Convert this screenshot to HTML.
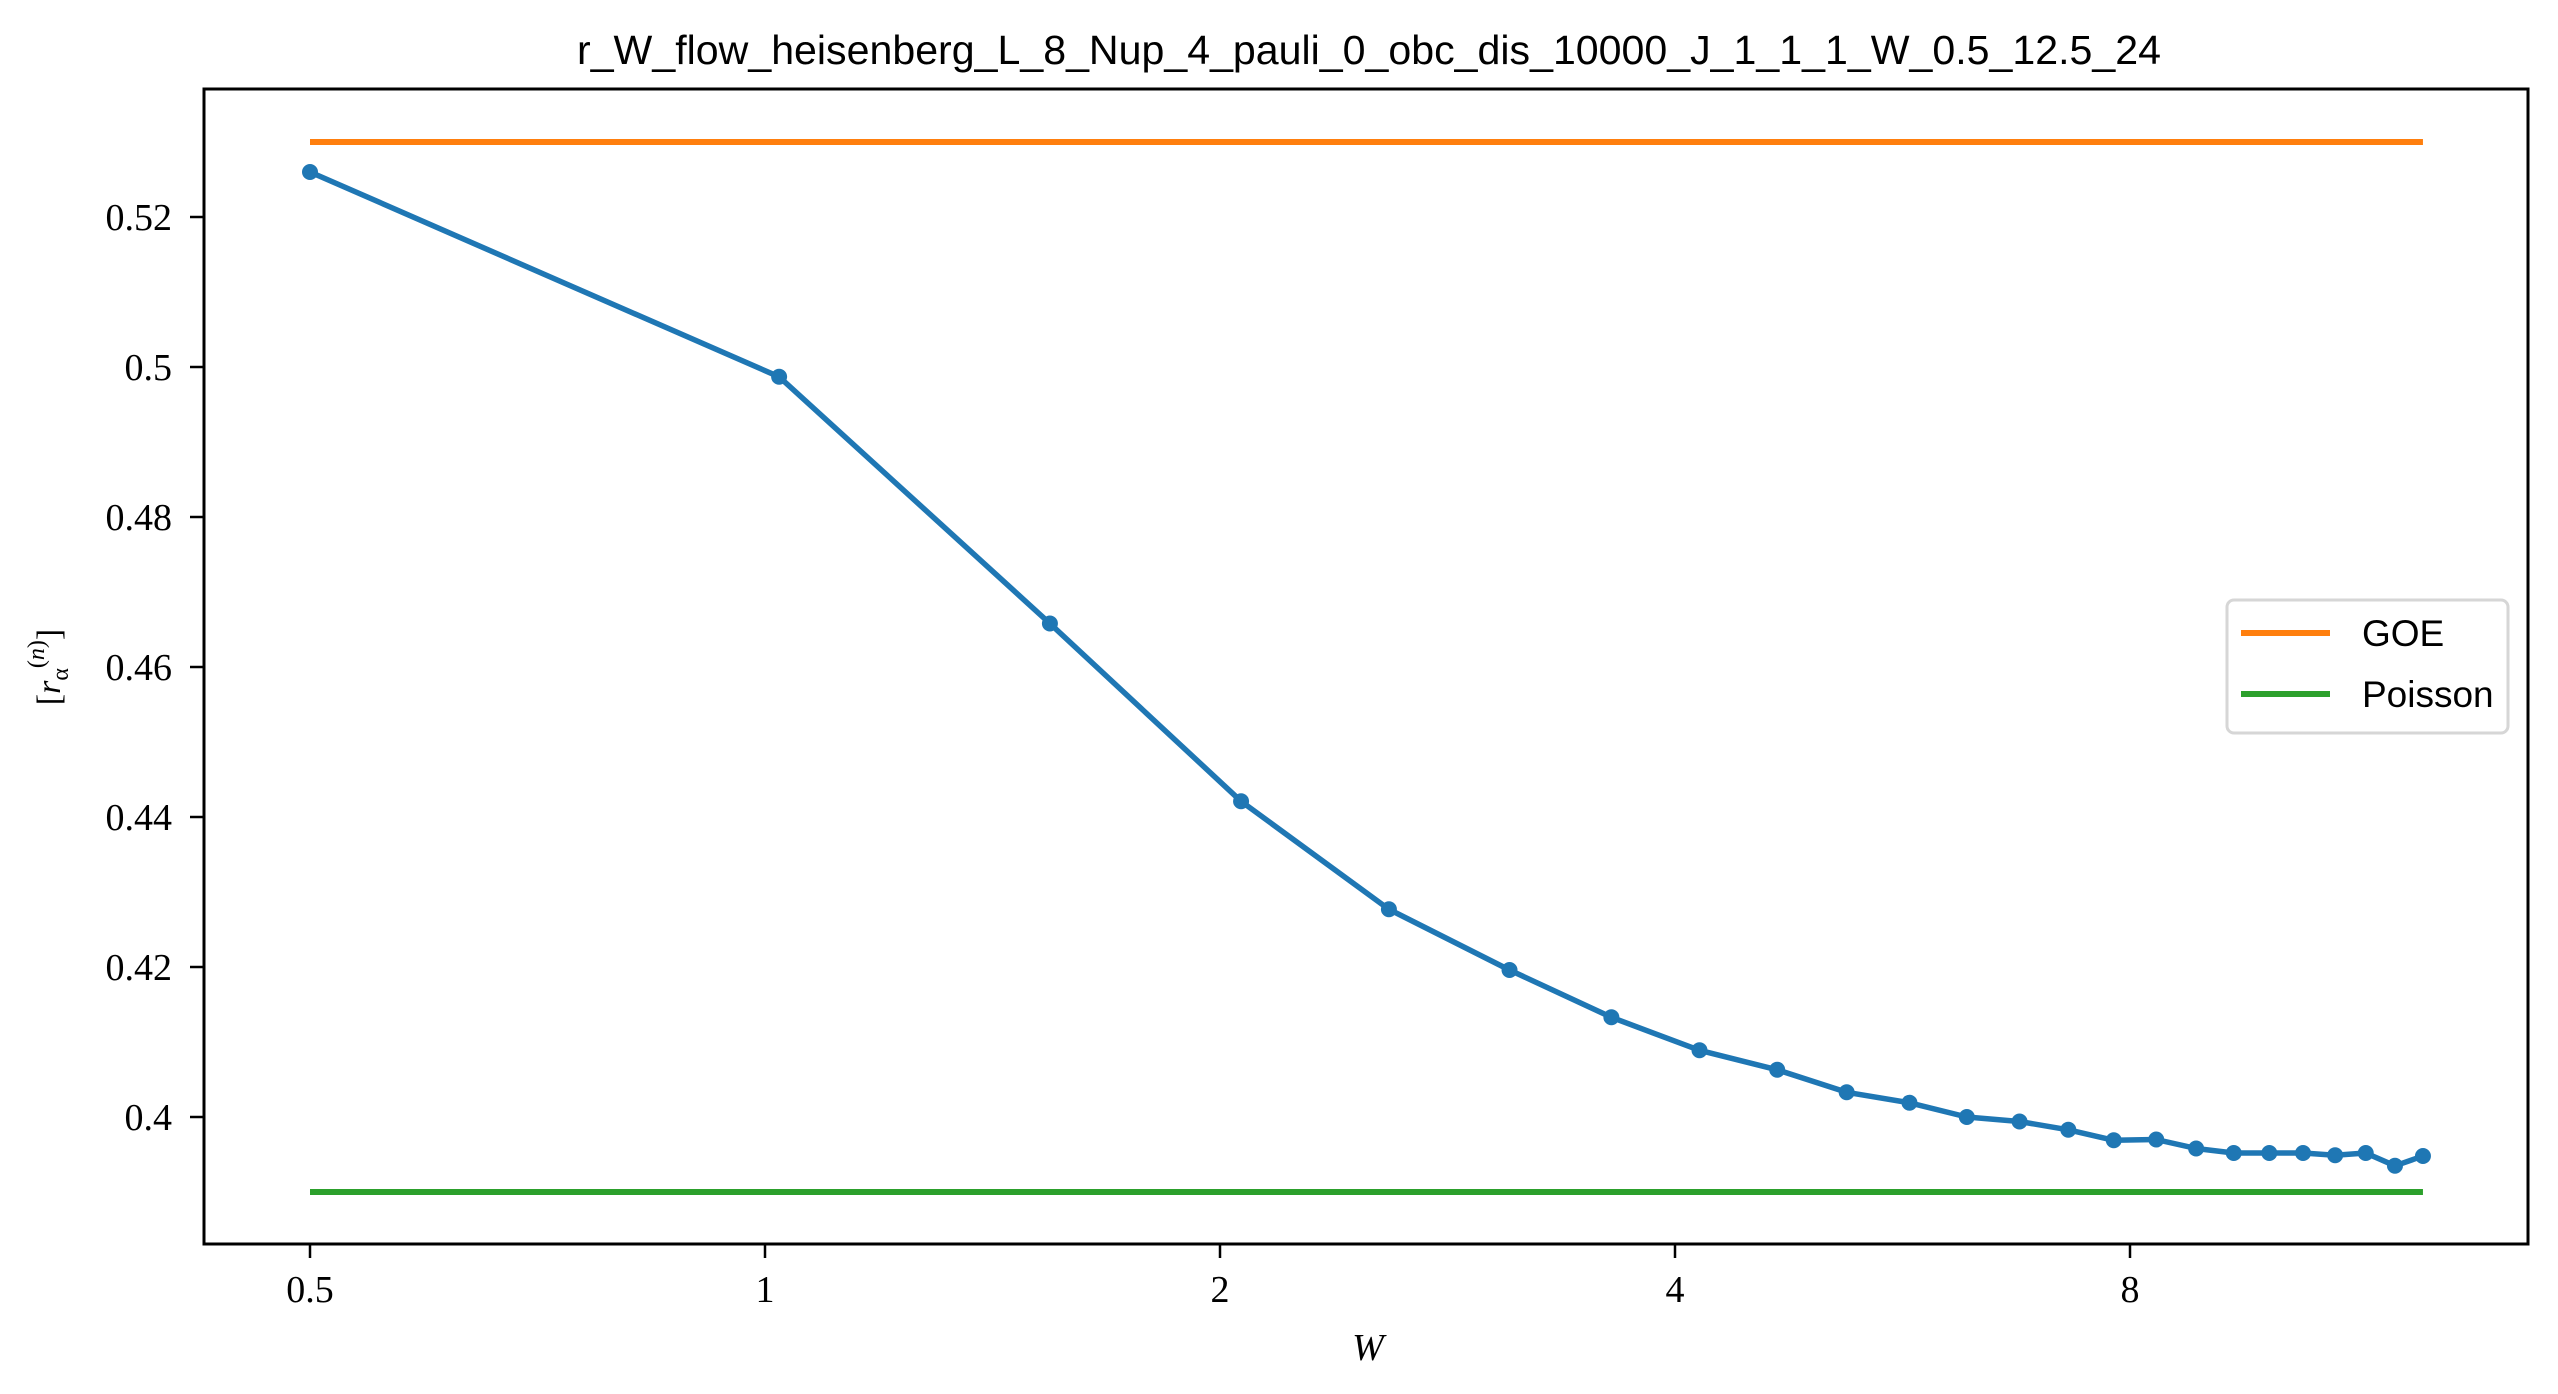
<!DOCTYPE html>
<html><head><meta charset="utf-8"><style>
html,body{margin:0;padding:0;background:#fff}
svg{display:block}
</style></head><body>
<svg id="chart" width="2558" height="1394" viewBox="0 0 2558 1394" xmlns="http://www.w3.org/2000/svg">
<rect width="2558" height="1394" fill="#fff"/>
<text x="577" y="64" textLength="1584" lengthAdjust="spacingAndGlyphs" font-family="Liberation Sans, sans-serif" font-size="41">r_W_flow_heisenberg_L_8_Nup_4_pauli_0_obc_dis_10000_J_1_1_1_W_0.5_12.5_24</text>
<g id="plot"></g>
<g id="xticks"></g>
<g id="yticks"></g>
<text x="1368" y="1360" text-anchor="middle" font-family="Liberation Serif, serif" font-style="italic" font-size="38">W</text>
<text transform="translate(60,667) rotate(-90)" text-anchor="middle" font-family="Liberation Serif, serif" font-size="34">[<tspan font-style="italic">r</tspan><tspan font-size="24" dy="8">α</tspan><tspan font-size="24" dy="-24">(<tspan font-style="italic">n</tspan>)</tspan><tspan dy="16">]</tspan></text>
<rect x="204" y="89" width="2324" height="1155" fill="none" stroke="#000" stroke-width="3"/>
<g>
<rect x="2227" y="600" width="281" height="133" rx="7" fill="#fff" fill-opacity="0.8" stroke="#d6d6d6" stroke-width="3"/>
<line x1="2241" y1="633" x2="2330" y2="633" stroke="#ff7f0e" stroke-width="6"/>
<text x="2362" y="646" font-family="Liberation Sans, sans-serif" font-size="37">GOE</text>
<line x1="2241" y1="694" x2="2330" y2="694" stroke="#2ca02c" stroke-width="6"/>
<text x="2362" y="707" font-family="Liberation Sans, sans-serif" font-size="37">Poisson</text>
</g>
</svg>
<script>
const wMin = 0.5, wMax = 12.5, nPts = 24;
const rValues = [0.526,0.4987,0.4658,0.4421,0.4277,0.4196,0.4133,0.4089,0.4063,0.4033,0.4019,0.4000,0.3994,0.3983,0.3969,0.3970,0.3958,0.3952,0.3952,0.3952,0.3949,0.3952,0.3935,0.3948];
const goeValue = 0.53;
const poissonValue = 0.39;
const xTickValues = [0.5,1,2,4,8];
const xTickLabels = ["0.5","1","2","4","8"];
const yTickValues = [0.4,0.42,0.44,0.46,0.48,0.5,0.52];
const yTickLabels = ["0.4","0.42","0.44","0.46","0.48","0.5","0.52"];

const NS = "http://www.w3.org/2000/svg";
function xs(w){ return 310 + Math.log2(w/0.5)*455; }
function ys(v){ return 1117 - (v-0.4)/0.02*150; }
const wValues = rValues.map((_,i)=> wMin + i*(wMax-wMin)/(nPts-1));
function mk(tag, attrs, parent){ const e=document.createElementNS(NS,tag); for(const k in attrs) e.setAttribute(k,attrs[k]); parent.appendChild(e); return e; }
const plot = document.getElementById('plot');
const x0 = xs(wValues[0]), x1 = xs(wValues[wValues.length-1]);
let g = mk('line',{x1:x0,x2:x1,y1:ys(goeValue),y2:ys(goeValue),stroke:'#ff7f0e','stroke-width':6},plot);


let p = mk('line',{x1:x0,x2:x1,y1:ys(poissonValue),y2:ys(poissonValue),stroke:'#2ca02c','stroke-width':6},plot);


let pts = wValues.map((w,i)=> xs(w).toFixed(1)+','+ys(rValues[i]).toFixed(1)).join(' ');
let pl = mk('polyline',{points:pts,fill:'none',stroke:'#1f77b4','stroke-width':5.5,'stroke-linejoin':'round'},plot);


wValues.forEach((w,i)=>{
  const c = mk('circle',{cx:xs(w),cy:ys(rValues[i]),r:8,fill:'#1f77b4'},plot);
  
  
});
const xt = document.getElementById('xticks');
xTickValues.forEach((v,i)=>{
  const x = xs(v);
  const t = mk('line',{x1:x,x2:x,y1:1244,y2:1258,stroke:'#000','stroke-width':2.5},xt);
  
  
  const l = mk('text',{x:x,y:1302,'text-anchor':'middle','font-family':'Liberation Serif, serif','font-size':38},xt);
  l.textContent = xTickLabels[i];
  
  
});
const yt = document.getElementById('yticks');
yTickValues.forEach((v,i)=>{
  const y = ys(v);
  const t = mk('line',{x1:190,x2:204,y1:y,y2:y,stroke:'#000','stroke-width':2.5},yt);
  
  
  const l = mk('text',{x:172,y:y+13,'text-anchor':'end','font-family':'Liberation Serif, serif','font-size':38},yt);
  l.textContent = yTickLabels[i];
  
  
});
</script>
</body></html>
